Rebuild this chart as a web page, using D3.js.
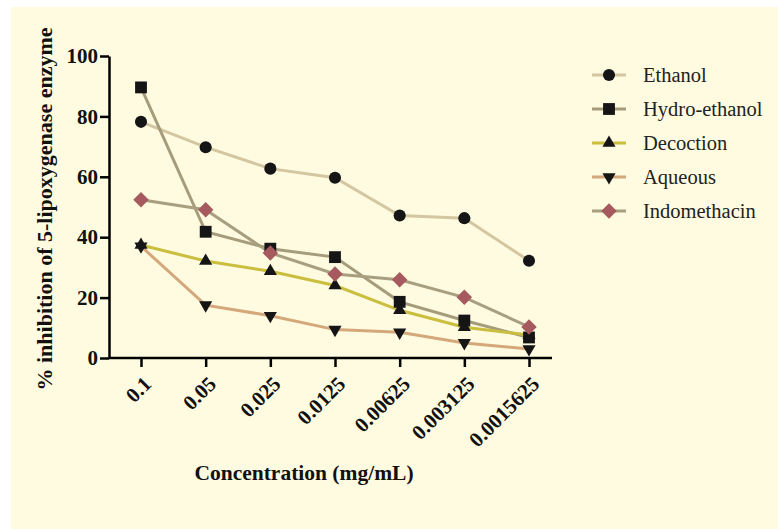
<!DOCTYPE html>
<html>
<head>
<meta charset="utf-8">
<script src="https://cdn.jsdelivr.net/npm/d3@7"></script>
<style>
  body { margin: 0; background: #fff; }
  svg { display: block; }
  text { font-family: "Liberation Serif", "Times New Roman", serif; }
</style>
</head>
<body>
<svg id="chart" width="778" height="529"></svg>
<script>
// concentrations (mg/mL), as printed on the x axis
var concentrations = ["0.1", "0.05", "0.025", "0.0125", "0.00625", "0.003125", "0.0015625"]
var yTicks = [0, 20, 40, 60, 80, 100]

// % inhibition
var ethanol      = [78.2, 69.8, 62.7, 59.7, 47.2, 46.3, 32.2]
var hydroEthanol = [89.6, 41.8, 36.2, 33.4, 18.6, 12.4, 6.8]
var decoction    = [37.4, 32.1, 28.7, 24.0, 15.8, 10.2, 7.6]
var aqueous      = [37.0, 17.5, 14.0, 9.4, 8.5, 5.0, 3.0]
var indomethacin = [52.4, 49.1, 34.8, 27.8, 25.9, 20.1, 10.3]

var seriesNames = ["Ethanol", "Hydro-ethanol", "Decoction", "Aqueous", "Indomethacin"]

var series = [
  {name: seriesNames[0], values: ethanol,      line: "#d3c6a1", fill: "#151515", shape: d3.symbolCircle,   size: 115},
  {name: seriesNames[1], values: hydroEthanol, line: "#a59c7c", fill: "#151515", shape: d3.symbolSquare,   size: 140},
  {name: seriesNames[2], values: decoction,    line: "#c9be3e", fill: "#151515", shape: d3.symbolTriangle, size: 75},
  {name: seriesNames[3], values: aqueous,      line: "#d4a87a", fill: "#151515", shape: "down",            size: 75},
  {name: seriesNames[4], values: indomethacin, line: "#a89f80", fill: "#a65a5e", shape: "diamond",         size: 120}
]

var svg = d3.select("#chart")

// pale yellow page
svg.append("rect")
  .attr("x", 11).attr("y", 7)
  .attr("width", 767).attr("height", 522)
  .attr("fill", "#fffbe0")

var x = d3.scalePoint()
  .domain(concentrations)
  .range([141, 529])

var y = d3.scaleLinear()
  .domain([0, 100])
  .range([358, 56])

var xAxisG = svg.append("g")
  .attr("transform", "translate(0,358)")
  .call(d3.axisBottom(x).tickSize(9).tickPadding(6))
xAxisG.select(".domain").attr("d", "M109,0H552")
xAxisG.selectAll("line").attr("stroke-width", 2.5)
xAxisG.select(".domain").attr("stroke-width", 2.5)
xAxisG.selectAll("text")
  .attr("font-size", 21)
  .attr("font-weight", "bold")
  .attr("fill", "#111")
  .attr("text-anchor", "end")
  .attr("dy", "0.35em")
  .attr("transform", "translate(6,22) rotate(-45)")
  .attr("y", 0).attr("x", 0)

var yAxisG = svg.append("g")
  .attr("transform", "translate(109,0)")
  .call(d3.axisLeft(y).tickValues(yTicks).tickSize(9).tickPadding(2).tickSizeOuter(0))
yAxisG.selectAll("line").attr("stroke-width", 2.5)
yAxisG.select(".domain").attr("stroke-width", 2.5)
yAxisG.selectAll("text")
  .attr("font-size", 21)
  .attr("font-weight", "bold")
  .attr("fill", "#111")

// axis titles
svg.append("text")
  .attr("x", 304).attr("y", 480)
  .attr("text-anchor", "middle")
  .attr("font-size", 21.5)
  .attr("font-weight", "bold")
  .attr("fill", "#111")
  .text("Concentration (mg/mL)")

svg.append("text")
  .attr("transform", "translate(52,209) rotate(-90)")
  .attr("text-anchor", "middle")
  .attr("font-size", 22)
  .attr("font-weight", "bold")
  .attr("fill", "#111")
  .text("% inhibition of 5-lipoxygenase enzyme")

function markerPath(s){
  if (s.shape === "down") return d3.symbol().type(d3.symbolTriangle).size(s.size)()
  if (s.shape === "diamond") return d3.symbol().type(d3.symbolSquare).size(s.size)()
  return d3.symbol().type(s.shape).size(s.size)()
}
function markerTransform(s, px, py){
  if (s.shape === "down") return `translate(${px},${py}) rotate(180)`
  if (s.shape === "diamond") return `translate(${px},${py}) rotate(45)`
  return `translate(${px},${py})`
}

var line = d3.line()
  .x((d, i) => x(concentrations[i]))
  .y(d => y(d))

// lines first, then markers on top
series.forEach(function(s){
  svg.append("path")
    .attr("d", line(s.values))
    .attr("fill", "none")
    .attr("stroke", s.line)
    .attr("stroke-width", 3)
})
series.forEach(function(s){
  svg.append("g").selectAll("path")
    .data(s.values)
    .join("path")
    .attr("d", markerPath(s))
    .attr("transform", (d, i) => markerTransform(s, x(concentrations[i]), y(d)))
    .attr("fill", s.fill)
})

// legend
var legend = svg.append("g")
series.forEach(function(s, i){
  var ly = 75 + i * 34
  legend.append("line")
    .attr("x1", 592).attr("x2", 626)
    .attr("y1", ly).attr("y2", ly)
    .attr("stroke", s.line).attr("stroke-width", 3)
  legend.append("path")
    .attr("d", markerPath(s))
    .attr("transform", markerTransform(s, 609, ly))
    .attr("fill", s.fill)
  legend.append("text")
    .attr("x", 643).attr("y", ly)
    .attr("dy", "0.35em")
    .attr("font-size", 20.5)
    .attr("fill", "#222")
    .text(s.name)
})
</script>
</body>
</html>
